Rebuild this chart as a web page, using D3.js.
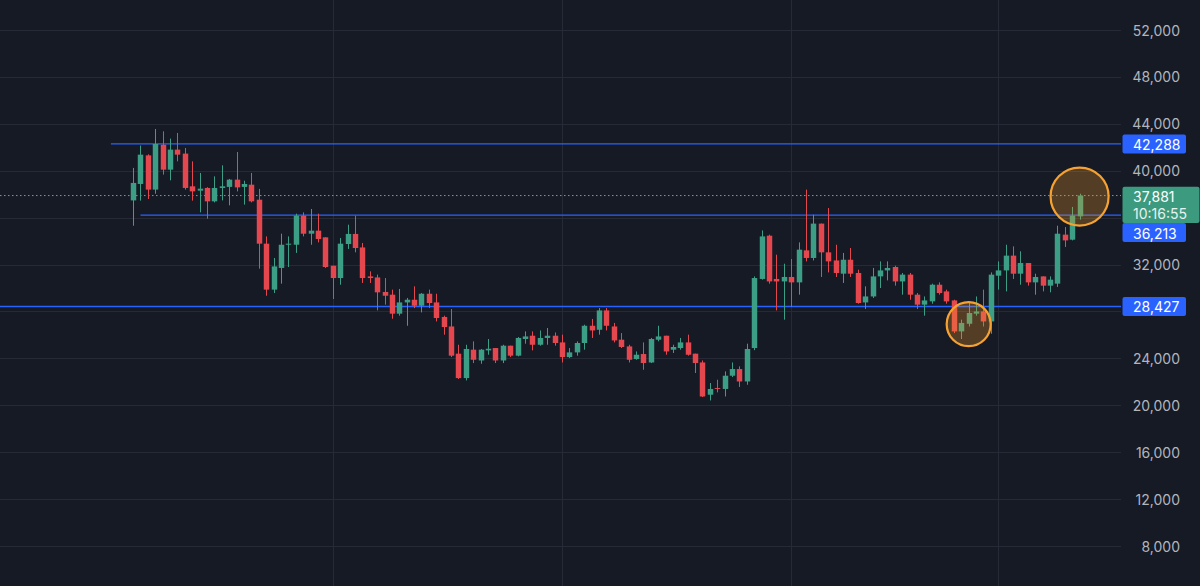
<!DOCTYPE html>
<html>
<head>
<meta charset="utf-8">
<script src="https://cdn.jsdelivr.net/npm/d3@7/dist/d3.min.js"></script>
<style>
  html, body { margin: 0; padding: 0; background: #161a25; }
  svg { display: block; }
</style>
</head>
<body>
<svg id="chart" width="1200" height="586"></svg>
<script>
// ---------------- DATA ----------------
const opens = [37470,38870,41310,38390,42220,40090,41800,41460,38670,38300,38530,37390,38530,38620,39240,38620,38810,37530,33780,29860,
  31710,33690,33690,36170,34630,34890,34320,31900,30850,33750,34610,33460,30990,30900,29660,29430,27810,28770,29000,28490,
  29510,28770,27530,26720,24400,22320,24740,23820,24680,24880,23820,25080,24230,25650,25930,25160,25740,25930,25360,24110,
  24510,25310,26780,26440,28090,26720,25590,25020,23940,24370,23650,25590,25930,24740,24880,25360,24400,23650,20900,21470,
  21390,22520,23090,22030,24880,30770,34460,30770,30560,30940,30480,33210,32560,35490,33040,32350,31220,32410,31280,28770,
  29280,30990,31500,31790,30560,31140,29430,28580,28860,30280,29710,28940,26300,26950,27810,28000,27150,31050,31500,32760,
  31220,32130,30480,30990,30200,30370,34550,34120,36110];
const highs = [40240,42140,41400,43560,43360,42740,43220,41940,40800,39810,38600,39520,40460,39300,41600,39150,39810,38450,34400,32560,
  34630,34400,36340,36450,36740,36340,34320,31900,34270,35400,36170,33840,31420,31140,30850,29860,29920,29150,30140,29570,
  29860,29510,27640,28210,25160,25160,25450,24800,25650,24880,25160,25080,25820,26300,26300,26380,26590,26210,26020,24880,
  25450,26870,27360,28290,28290,27020,26160,25160,24590,25360,25740,26780,25930,25160,25740,26020,24400,23820,21900,22180,
  22890,23650,23320,25250,30990,34910,34550,32840,32070,32470,33890,38390,36250,35490,36820,33690,32990,33410,31560,30140,
  31710,32270,32270,31900,31280,31280,29570,29280,30370,30480,29860,29000,27300,28860,29280,29860,31330,32270,33690,33550,
  33130,32130,31220,30990,30990,35310,35200,36910,38040];
const lows = [35310,37450,37590,38040,39670,39180,40800,38390,37450,36450,35910,37300,37470,37050,38240,37110,37300,31650,29340,29570,
  30370,31790,32990,34400,33690,33890,31710,29060,30280,33330,33040,30430,30430,28090,28580,27380,27640,26780,28290,27920,
  28290,27150,26020,24110,22240,22120,23600,23540,24310,23600,23600,24110,24170,25250,24680,25080,25160,25080,23650,24030,
  24230,24740,25740,26020,26380,25360,24880,23650,23880,23030,23600,25450,24310,24460,24740,24230,22750,20700,20410,21100,
  20750,22410,21560,21750,24700,30710,30370,28090,27300,28380,29430,32270,32350,30940,31330,30940,30430,30940,28660,28210,
  29150,30000,30650,30200,29430,29000,28210,27640,28660,29430,28660,26160,25650,26720,27640,26720,26100,29860,29710,30770,
  30280,30200,29430,29710,29630,30090,33500,34060,35830];
const closes = [38960,41370,38390,42280,40090,41800,41370,38530,38240,38470,37390,38530,38670,39240,38580,38870,37390,33780,29860,31840,
  33690,33780,36170,34630,34890,34180,31790,30850,33780,34610,33410,30850,30850,29630,29340,27810,28770,29000,28490,29510,
  28720,27440,26670,24230,22320,24800,23880,24740,24820,23820,25080,24230,25740,25870,25160,25740,25930,25310,24110,24510,
  25310,26780,26380,28090,26780,25530,24970,23880,24310,23600,25650,25870,24590,24970,25360,24310,23600,20750,21390,21390,
  22520,23090,22030,24800,30850,34400,30560,30560,30940,30480,33270,32560,35490,33040,32270,31280,32410,31220,28720,29280,
  30990,31500,31710,30560,31140,29430,28580,28940,30280,29570,28860,26300,27020,27870,28000,27150,31140,31500,32760,31220,
  32130,30480,30940,30200,30710,34630,34060,36170,37881];

const priceTicks = [8000,12000,16000,20000,24000,28000,32000,36000,40000,44000,48000,52000];
const monthGridIdx = [27, 58, 89, 117];          // candle index of month boundaries
const levels = [42288, 36213, 28427];            // horizontal levels
const levelStartIdx = [-3, 1, -18];              // candle index where each level begins
const lastPrice = 37881;
const countdown = "10:16:55";
const highlightIdx = [128, 113];                 // circled candles
const highlightPrice = [37881, 27000];

// ---------------- LAYOUT ----------------
const W = 1200, H = 586, plotRight = 1121;
const svg = d3.select("#chart");
svg.append("rect").attr("width", W).attr("height", H).attr("fill", "#161a25");

const x = d3.scaleLinear().domain([-18, 133.6]).range([0, plotRight]);
const y = d3.scaleLinear().domain([8000, 52000]).range([546, 30]);
const step = x(1) - x(0);
const bodyW = step * 0.74;

const upC = "#3c9e84", downC = "#e5474f", blue = "#2962ff";
const font = "Inter, 'Noto Sans', sans-serif";

// grid
const grid = svg.append("g");
grid.selectAll("line.h").data(priceTicks).join("line")
  .attr("x1", 0).attr("x2", plotRight)
  .attr("y1", d => Math.round(y(d)) + 0.5).attr("y2", d => Math.round(y(d)) + 0.5)
  .attr("stroke", "#262a36").attr("stroke-width", 1);
grid.selectAll("line.v").data(monthGridIdx).join("line")
  .attr("x1", d => Math.round(x(d)) + 0.5).attr("x2", d => Math.round(x(d)) + 0.5)
  .attr("y1", 0).attr("y2", H)
  .attr("stroke", "#262a36").attr("stroke-width", 1);

// level lines
svg.append("g").selectAll("line").data(levels).join("line")
  .attr("x1", (d, i) => Math.max(0, x(levelStartIdx[i]))).attr("x2", plotRight)
  .attr("y1", d => y(d)).attr("y2", d => y(d))
  .attr("stroke", blue).attr("stroke-width", 1.4);

// last price dotted line
svg.append("line")
  .attr("x1", 0).attr("x2", plotRight)
  .attr("y1", y(lastPrice)).attr("y2", y(lastPrice))
  .attr("stroke", "#7f9a96").attr("stroke-width", 1)
  .attr("stroke-dasharray", "1.5,2.5");

// candles
const candles = d3.range(opens.length).map(i => ({i, o: opens[i], h: highs[i], l: lows[i], c: closes[i]}));
const cg = svg.append("g");
cg.selectAll("line").data(candles).join("line")
  .attr("x1", d => Math.round(x(d.i)) + 0.5).attr("x2", d => Math.round(x(d.i)) + 0.5)
  .attr("y1", d => y(d.h)).attr("y2", d => y(d.l))
  .attr("stroke", d => d.c >= d.o ? upC : downC).attr("stroke-width", 1);
cg.selectAll("rect").data(candles).join("rect")
  .attr("x", d => Math.round(x(d.i)) + 0.5 - bodyW / 2)
  .attr("width", bodyW)
  .attr("y", d => y(Math.max(d.o, d.c)))
  .attr("height", d => Math.max(1, Math.abs(y(d.o) - y(d.c))))
  .attr("fill", d => d.c >= d.o ? upC : downC);

// highlight circles
const radii = [29, 22];
svg.append("g").selectAll("circle").data(highlightIdx).join("circle")
  .attr("cx", d => x(d)).attr("cy", (d, i) => y(highlightPrice[i]) + 1)
  .attr("r", (d, i) => radii[i])
  .attr("fill", "rgba(245,158,40,0.28)")
  .attr("stroke", "#f5a232").attr("stroke-width", 2.2);

// price axis labels (hide those colliding with level labels)
const markerYs = levels.map(y);
const ticksShown = priceTicks.filter(t => markerYs.every(m => Math.abs(y(t) - m) > 14));
svg.append("g").selectAll("text").data(ticksShown).join("text")
  .attr("x", 1180).attr("y", d => y(d))
  .attr("text-anchor", "end").attr("dominant-baseline", "central")
  .attr("fill", "#b2b5be").attr("font-family", font).attr("font-size", 14)
  .text(d => d3.format(",")(d));

// level labels
const boxX = 1122.5, boxW = 63.5, boxH = 19;
const labelY = levels.map(v => y(v));
// the label under the last price box is pushed below it
const greenTop = 186.7, greenH = 36.3;
const lvlBoxTop = labelY.map(ly => {
  let t = ly - boxH / 2;
  if (t < greenTop + greenH && t + boxH > greenTop) t = greenTop + greenH;
  return t;
});
const lg = svg.append("g");
lg.selectAll("rect").data(levels).join("rect")
  .attr("x", boxX).attr("y", (d, i) => lvlBoxTop[i]).attr("width", boxW).attr("height", boxH)
  .attr("rx", 2).attr("fill", blue);
lg.selectAll("text").data(levels).join("text")
  .attr("x", 1133).attr("y", (d, i) => lvlBoxTop[i] + boxH / 2 + 0.5)
  .attr("dominant-baseline", "central")
  .attr("fill", "#ffffff").attr("font-family", font).attr("font-size", 14)
  .text(d => d3.format(",")(d));

// last price label
svg.append("rect").attr("x", boxX).attr("y", greenTop).attr("width", 77).attr("height", greenH)
  .attr("rx", 2).attr("fill", "#3c9a7e");
svg.append("text").attr("x", 1133).attr("y", greenTop + 10)
  .attr("dominant-baseline", "central")
  .attr("fill", "#ffffff").attr("font-family", font).attr("font-size", 14)
  .text(d3.format(",")(lastPrice));
svg.append("text").attr("x", 1133).attr("y", greenTop + 26.5)
  .attr("dominant-baseline", "central")
  .attr("fill", "#e8f2ee").attr("font-family", font).attr("font-size", 14)
  .text(countdown);
</script>
</body>
</html>
